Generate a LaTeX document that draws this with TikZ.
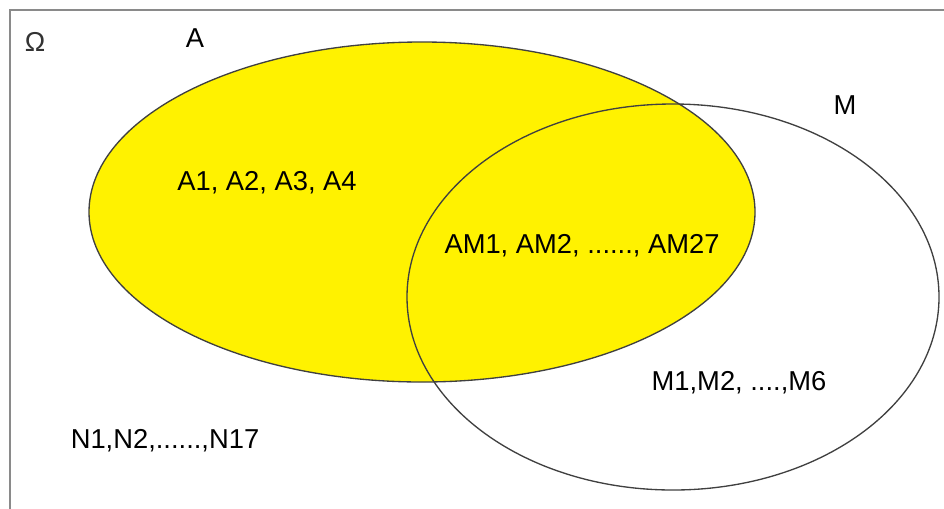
\documentclass[tikz,border=0pt]{standalone}
\usepackage{fontspec}
\setmainfont{Liberation Sans}
\usepackage{tikz}

\definecolor{setyellow}{HTML}{FFF200}
\definecolor{framegray}{HTML}{8A8A8A}

\begin{document}
\begin{tikzpicture}[x=0.75pt, y=-0.75pt, font=\fontsize{20.5}{24}\selectfont,
  outline/.style={draw=black!75, line width=1pt},
  lbl/.style={inner sep=0pt, text=black}]

\useasboundingbox (0,0) rectangle (944,508);

% the universe: frame runs off the right and bottom edges
\draw[framegray, line width=2.2pt] (10,530) -- (10,10) -- (960,10);

% set A filled, set M only outlined on top of it
\draw[outline, fill=setyellow] (422,212) ellipse [x radius=333, y radius=170];
\draw[outline] (673,297) ellipse [x radius=266, y radius=193];

% names of the sets
\node[lbl, text=black!80] (omega) at (35,42) {Ω};
\node[lbl] (nameA) at (195,38) {A};
\node[lbl] (nameM) at (845,105) {M};

% elements
\node[lbl] (onlyA) at (267,183) {A1, A2, A3, A4};
\node[lbl] (both) at (582,246) {AM1, AM2, ......, AM27};
\node[lbl] (onlyM) at (739,383) {M1,M2, ....,M6};
\node[lbl] (none) at (165,441) {N1,N2,......,N17};

\end{tikzpicture}
\end{document}
